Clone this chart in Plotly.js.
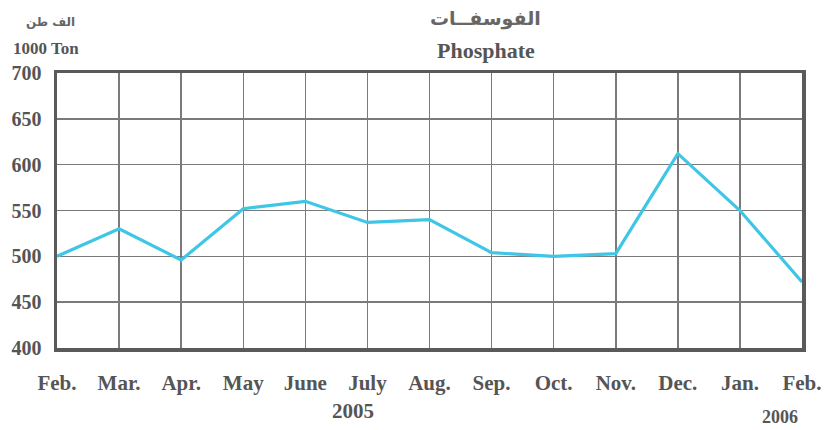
<!DOCTYPE html>
<html>
<head>
<meta charset="utf-8">
<script src="https://cdn.plot.ly/plotly-3.0.1.min.js"></script>
<style>html,body{margin:0;padding:0;background:#fff;}</style>
</head>
<body>
<div id="chart" style="width:826px;height:430px;"></div>
<script>
const months = ["Feb.","Mar.","Apr.","May","June","July","Aug.","Sep.","Oct.","Nov.","Dec.","Jan.","Feb."];
const phosphate = [500, 530, 496, 552, 560, 537, 540, 504, 500, 503, 612, 550, 472];
const yTicks = [400, 450, 500, 550, 600, 650, 700];
const titleAr = "الفوسفــات";
const titleEn = "Phosphate";
const unitAr = "الف طن";
const unitEn = "1000 Ton";
const years = ["2005", "2006"];

const W = 826, H = 430;
const M = {l: 57, r: 24, t: 73, b: 82};
const pw = W - M.l - M.r, ph = H - M.t - M.b;
const px = x => (x - M.l) / pw;
const py = y => (H - M.b - y) / ph;

const serif = "Liberation Serif, Times New Roman, serif";
const txt = "#555";

const xIdx = months.map((m, i) => i);

const trace = {
  x: xIdx,
  y: phosphate,
  type: "scatter",
  mode: "lines",
  line: {color: "#3fc6e6", width: 3.2},
  cliponaxis: false,
  hoverinfo: "skip"
};

const ann = (text, x, y, size, family, color) => ({
  text: text, xref: "paper", yref: "paper", x: px(x), y: py(y),
  xanchor: "center", yanchor: "middle", showarrow: false,
  font: {size: size, family: family, color: color}
});

const layout = {
  width: W, height: H,
  margin: M,
  paper_bgcolor: "#fff",
  plot_bgcolor: "#fff",
  showlegend: false,
  xaxis: {
    range: [0, 12],
    tickvals: xIdx,
    ticktext: months.map(m => "<b>" + m + "</b>"),
    showgrid: true, gridcolor: "#7a7a7a", gridwidth: 1.5,
    zeroline: false,
    showline: true, mirror: true, linecolor: "#5a5a5a", linewidth: 3.5,
    ticks: "outside", ticklen: 13, tickcolor: "rgba(0,0,0,0)",
    tickfont: {family: serif, size: 21, color: txt},
    fixedrange: true
  },
  yaxis: {
    range: [400, 700],
    tickvals: yTicks,
    ticktext: yTicks.map(v => "<b>" + v + "</b>"),
    showgrid: true, gridcolor: "#7a7a7a", gridwidth: 1.5,
    zeroline: false,
    showline: true, mirror: true, linecolor: "#5a5a5a", linewidth: 3.5,
    ticks: "outside", ticklen: 8, tickcolor: "rgba(0,0,0,0)",
    tickfont: {family: serif, size: 20, color: txt},
    fixedrange: true
  },
  annotations: [
    ann("<b>" + titleAr + "</b>", 485, 18, 19, "DejaVu Sans, Noto Sans, sans-serif", "#666"),
    ann("<b>" + titleEn + "</b>", 486, 51, 22, serif, txt),
    ann("<b>" + unitAr + "</b>", 50, 22, 12, "DejaVu Sans, Noto Sans, sans-serif", "#666"),
    ann("<b>" + unitEn + "</b>", 46, 48, 17, serif, txt),
    ann("<b>" + years[0] + "</b>", 353, 411, 21, serif, txt),
    ann("<b>" + years[1] + "</b>", 780, 417, 18, serif, txt)
  ]
};

Plotly.newPlot("chart", [trace], layout, {staticPlot: true, displayModeBar: false});
</script>
</body>
</html>
